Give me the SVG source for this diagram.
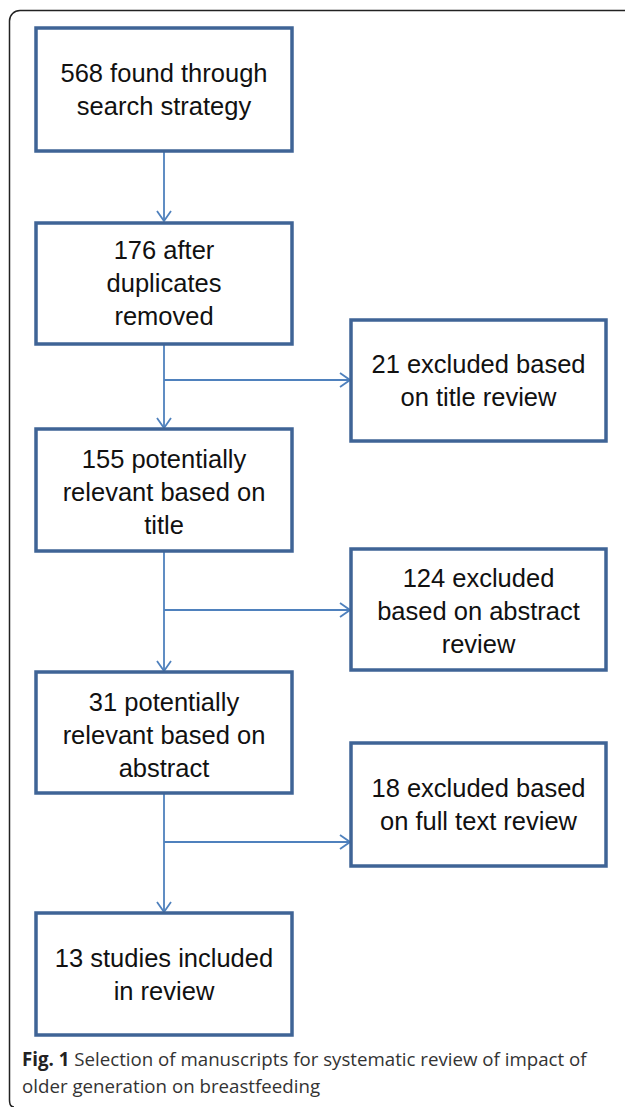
<svg xmlns="http://www.w3.org/2000/svg" width="625" height="1107" viewBox="0 0 625 1107">
<style>
.box{fill:#fff;stroke:#3F6496;stroke-width:3.5}
.t{font-family:"Liberation Sans",Arial,sans-serif;font-size:25.5px;fill:#111;text-anchor:middle}
.c{fill:none;stroke:#4F81BD;stroke-width:1.8}
.cap{font-family:"Open Sans","Liberation Sans",sans-serif;font-size:18.7px;fill:#333}
</style>
<defs>
<marker id="ah" viewBox="0 0 12 16" refX="11" refY="8" markerWidth="12" markerHeight="16" markerUnits="userSpaceOnUse" orient="auto">
<path d="M1 1 L11 8 L1 15" fill="none" stroke="#4F81BD" stroke-width="1.8"/>
</marker>
</defs>
<path d="M625 10.5 H20 A10.5 10.5 0 0 0 9.5 21 V1100 Q9.5 1107 14 1107" fill="none" stroke="#222" stroke-width="1.5"/>
<g id="connectors">
<path class="c" d="M164 151 V221" marker-end="url(#ah)"/>
<path class="c" d="M164 344 V428" marker-end="url(#ah)"/>
<path class="c" d="M164 380 H350" marker-end="url(#ah)"/>
<path class="c" d="M164 551 V671" marker-end="url(#ah)"/>
<path class="c" d="M164 610 H350" marker-end="url(#ah)"/>
<path class="c" d="M164 793 V912" marker-end="url(#ah)"/>
<path class="c" d="M164 842 H350" marker-end="url(#ah)"/>
</g>
<g id="n1"><rect class="box" x="36" y="28" width="256" height="123"/>
<text class="t" x="164" y="82">568 found through</text><text class="t" x="164" y="115">search strategy</text></g>
<g id="n2"><rect class="box" x="36" y="223" width="256" height="121"/>
<text class="t" x="164" y="259">176 after</text><text class="t" x="164" y="292">duplicates</text><text class="t" x="164" y="325">removed</text></g>
<g id="n3"><rect class="box" x="351" y="320" width="255" height="121"/>
<text class="t" x="478.5" y="373">21 excluded based</text><text class="t" x="478.5" y="406">on title review</text></g>
<g id="n4"><rect class="box" x="36" y="429" width="256" height="122"/>
<text class="t" x="164" y="468">155 potentially</text><text class="t" x="164" y="501">relevant based on</text><text class="t" x="164" y="534">title</text></g>
<g id="n5"><rect class="box" x="351" y="549" width="255" height="121"/>
<text class="t" x="478.5" y="587">124 excluded</text><text class="t" x="478.5" y="620">based on abstract</text><text class="t" x="478.5" y="653">review</text></g>
<g id="n6"><rect class="box" x="36" y="672" width="256" height="121"/>
<text class="t" x="164" y="711">31 potentially</text><text class="t" x="164" y="744">relevant based on</text><text class="t" x="164" y="777">abstract</text></g>
<g id="n7"><rect class="box" x="351" y="743" width="255" height="123"/>
<text class="t" x="478.5" y="797">18 excluded based</text><text class="t" x="478.5" y="830">on full text review</text></g>
<g id="n8"><rect class="box" x="36" y="913" width="256" height="122"/>
<text class="t" x="164" y="967">13 studies included</text><text class="t" x="164" y="1000">in review</text></g>
<g id="caption">
<text class="cap" x="22" y="1066"><tspan font-weight="bold" fill="#222">Fig. 1</tspan> Selection of manuscripts for systematic review of impact of</text>
<text class="cap" x="22" y="1093">older generation on breastfeeding</text>
</g>
</svg>
